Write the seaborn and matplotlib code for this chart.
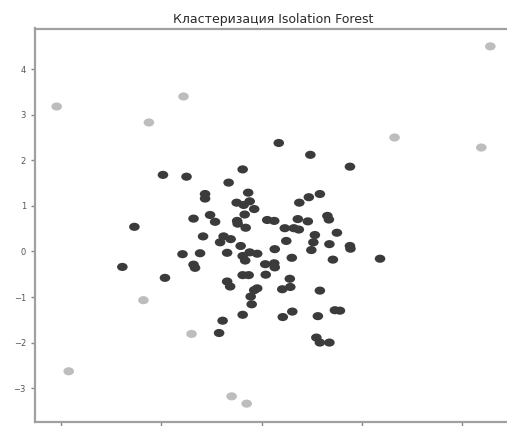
import matplotlib
matplotlib.use("Agg")
import matplotlib.pyplot as plt
from matplotlib.path import Path
from matplotlib.transforms import Affine2D
import numpy as np
import pandas as pd
import seaborn as sns

# Points labelled as normal by Isolation Forest
inlier_x = [0.34, 0.97, 1.76, -1.97, -1.50, -0.38, -0.66, -1.13, -1.13, -0.27,
            0.75, 0.94, 1.16, -0.50, -0.36, -0.24, -0.15, -1.36, -1.03, -0.93,
            -0.34, -0.49, -0.48, -0.32, 0.11, 0.25, 0.72, 0.92, 1.31, 1.34,
            0.46, 0.64, 0.74, 1.50, 1.06, -1.17, -0.76, -0.62, -0.83, -2.54,
            0.49, 1.03, 0.99, 1.35, 1.76, 1.77, -0.42, -1.58, -1.23, -0.69,
            -0.24, -0.09, -0.38, -0.33, 0.26, 0.60, 1.42, 2.36, 0.07, 0.25,
            0.26, -1.36, -1.33, -2.78, -0.38, -0.26, 0.08, 0.56, -1.93, -0.69,
            -0.63, 0.57, 0.41, -0.09, -0.15, -0.22, -0.20, 1.16, -0.38, -0.78,
            0.42, 0.61, 1.12, 1.46, 1.56, -0.85, 1.09, 1.16, 1.35]
inlier_y = [2.38, 2.12, 1.86, 1.68, 1.64, 1.80, 1.51, 1.26, 1.16, 1.29,
            1.07, 1.19, 1.26, 1.07, 1.02, 1.10, 0.93, 0.72, 0.80, 0.65,
            0.81, 0.67, 0.61, 0.52, 0.69, 0.67, 0.71, 0.66, 0.78, 0.70,
            0.51, 0.51, 0.48, 0.41, 0.36, 0.33, 0.33, 0.27, 0.20, 0.54,
            0.23, 0.20, 0.03, 0.16, 0.12, 0.06, 0.12, -0.06, -0.04, -0.03,
            -0.02, -0.05, -0.10, -0.20, 0.05, -0.14, -0.18, -0.16, -0.28, -0.26,
            -0.35, -0.29, -0.36, -0.34, -0.52, -0.52, -0.51, -0.60, -0.58, -0.66,
            -0.77, -0.78, -0.83, -0.81, -0.85, -0.99, -1.16, -0.86, -1.39, -1.52,
            -1.44, -1.32, -1.42, -1.29, -1.30, -1.79, -1.89, -2.00, -2.00]

# Points flagged as anomalies
outlier_x = [4.56, -4.09, -2.25, -1.56, 2.65, 4.38, -2.36, -1.40, -3.85, -0.60, -0.30]
outlier_y = [4.50, 3.18, 2.83, 3.40, 2.50, 2.28, -1.07, -1.81, -2.63, -3.18, -3.34]

x_ticks = [-4, -2, 0, 2, 4]
y_ticks = [-3, -2, -1, 0, 1, 2, 3, 4]

df = pd.DataFrame({
    "x": inlier_x + outlier_x,
    "y": inlier_y + outlier_y,
    "label": ["inlier"] * len(inlier_x) + ["outlier"] * len(outlier_x),
})

sns.set_style("ticks")
plt.rcParams["font.family"] = ["DejaVu Sans"]

fig = plt.figure(figsize=(5.07, 4.26), dpi=100)
ax = fig.add_axes([35 / 507, 4.5 / 426, 477 / 507, 393 / 426])

# slightly flattened round marker
ellipse = Path.unit_circle().transformed(Affine2D().scale(1.3, 1.0))

sns.scatterplot(data=df, x="x", y="y", hue="label",
                palette={"inlier": "#3b3b3b", "outlier": "#bdbdbd"},
                marker=ellipse, s=58, linewidth=0, legend=False, ax=ax)

ax.set_title("Кластеризация Isolation Forest", fontsize=9, color="#2a2a2a", pad=4)
ax.set_xticks(x_ticks)
ax.set_yticks(y_ticks)
ax.set_xlabel("")
ax.set_ylabel("")
ax.tick_params(axis="both", labelsize=6, colors="#888888", labelcolor="#555555",
               length=3, width=1)
# the x tick labels fall below the lower edge of the figure
ax.tick_params(axis="x", labelbottom=False)
for side in ["left", "bottom", "top", "right"]:
    ax.spines[side].set_visible(True)
    ax.spines[side].set_color("#a0a0a0")
    ax.spines[side].set_linewidth(1.6)

fig.savefig("out.png", dpi=100)
